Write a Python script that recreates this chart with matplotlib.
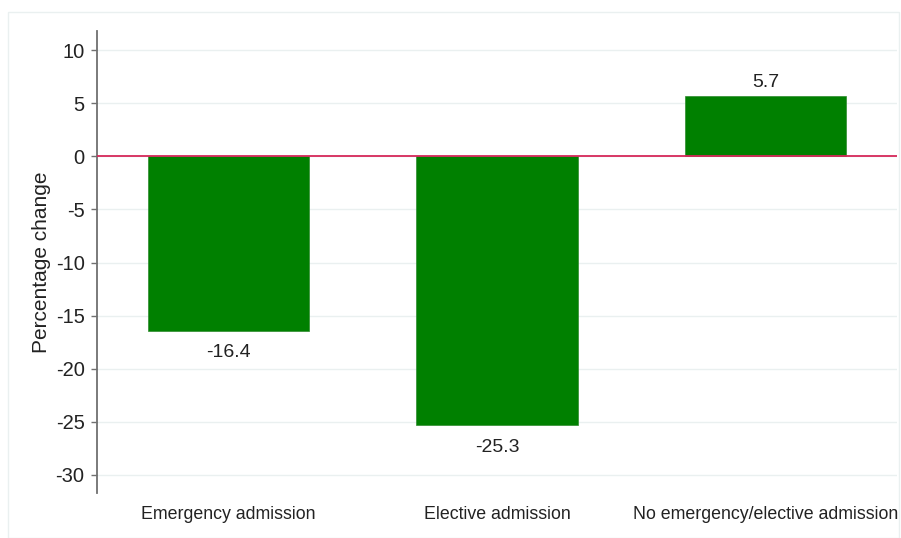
import numpy as np
import matplotlib.pyplot as plt
from matplotlib.patches import Rectangle

# data
categories = ["Emergency admission", "Elective admission", "No emergency/elective admission"]
pct_change = [-16.4, -25.3, 5.7]
y_ticks = [10, 5, 0, -5, -10, -15, -20, -25, -30]

plt.rcParams['font.family'] = ['Liberation Sans', 'DejaVu Sans']
plt.rcParams['axes.unicode_minus'] = False

fig = plt.figure(figsize=(9.01, 5.38), dpi=100)
ax = fig.add_axes([0.1077, 0.0836, 0.8879, 0.8588])

# faint outer frame like the stata graph region
fig.patches.append(Rectangle((8 / 901, 0), 1 - 8 / 901 - 2 / 901, 1 - 12 / 538,
                             transform=fig.transFigure, fill=False,
                             edgecolor='#eaf0f0', linewidth=1))

x = np.arange(len(categories))
ax.set_yticks(y_ticks)
ax.yaxis.grid(True, color='#eaf0f0', linewidth=1)
ax.set_axisbelow(True)

bars = ax.bar(x, pct_change, width=0.6, color='#008000', edgecolor='#2e8b2e', linewidth=0.5, zorder=2)
ax.axhline(0, color='#d6285a', linewidth=1.3, zorder=3)

for xi, v in zip(x, pct_change):
    if v >= 0:
        ax.annotate(f"{v:.1f}", (xi, v), xytext=(0, 3.6), textcoords='offset points',
                    ha='center', va='bottom', fontsize=14, color='#222222')
    else:
        ax.annotate(f"{v:.1f}", (xi, v), xytext=(0, -10), textcoords='offset points',
                    ha='center', va='top', fontsize=14, color='#222222')

ax.set_xlim(-0.49, 2.49)
ax.set_ylim(-31.7, 11.8)
ax.set_xticks(x)
ax.set_xticklabels(categories, fontsize=12.8, color='#222222')
ax.tick_params(axis='x', length=0, pad=9)
ax.tick_params(axis='y', length=4, width=1, color='#707070', labelsize=14.5,
               labelcolor='#222222', pad=5)
ax.set_ylabel("Percentage change", fontsize=15, color='#222222', labelpad=3)

for side in ['top', 'right', 'bottom']:
    ax.spines[side].set_visible(False)
ax.spines['left'].set_color('#707070')
ax.spines['left'].set_linewidth(1.3)

fig.savefig("out.png", dpi=100)
